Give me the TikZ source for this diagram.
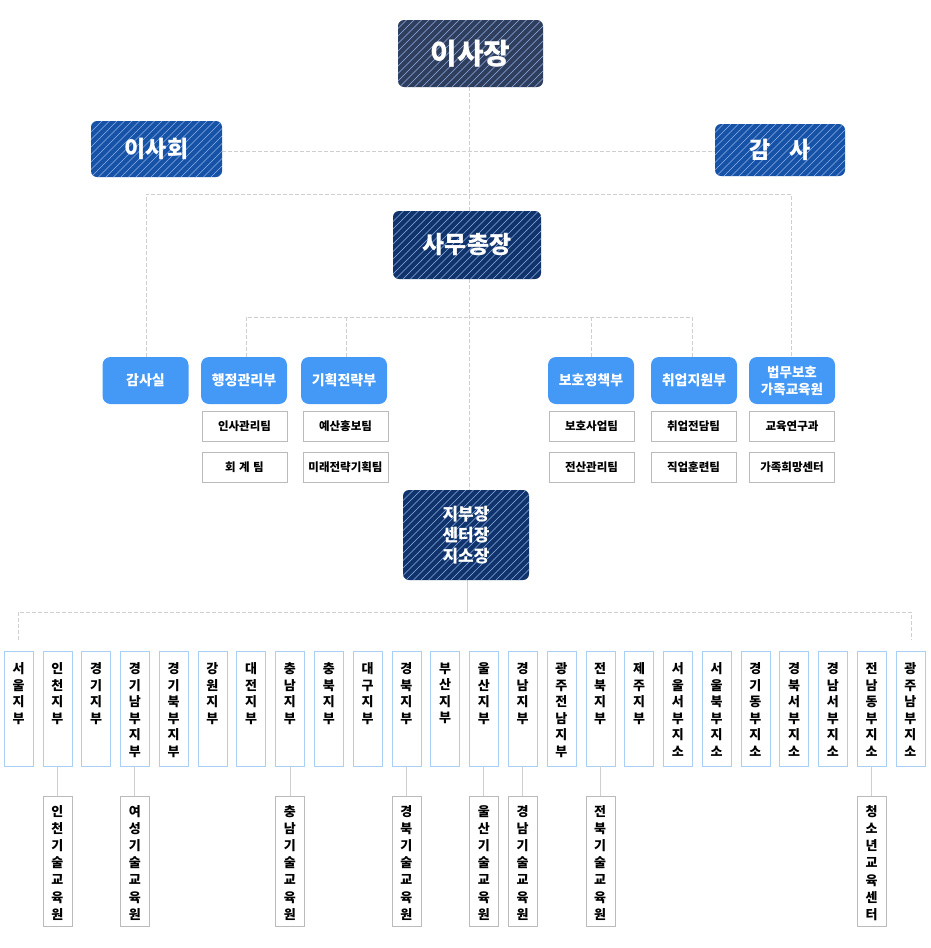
\documentclass[tikz,border=0pt]{standalone}
\usepackage{fontspec}
\setmainfont{Noto Sans CJK KR}
\usetikzlibrary{positioning}
\definecolor{cA}{HTML}{2F3E5C}
\definecolor{cB}{HTML}{1652A6}
\definecolor{cC}{HTML}{10336B}
\definecolor{hatch}{HTML}{8FB0E8}
\definecolor{blu}{HTML}{4499F7}
\definecolor{lin}{HTML}{CFCFCF}
\definecolor{bbord}{HTML}{A9CFF5}
\definecolor{tbord}{HTML}{BBBBBB}
\begin{document}
\begin{tikzpicture}[x=1pt,y=-1pt,
  hbox/.style={rectangle,rounded corners=6pt,inner sep=0pt,text=white,font=\bfseries,
    path picture={\foreach \i in {-24,...,24}{\draw[hatch,line width=0.6pt] (path picture bounding box.center) ++(\i*7.5-100,100) -- ++(200,-200);}}},
  bluebox/.style={rectangle,rounded corners=8pt,fill=blu,text=white,font=\fontsize{14}{17}\selectfont\bfseries,minimum width=86pt,minimum height=47pt,inner sep=0pt,align=center},
  team/.style={rectangle,draw=tbord,fill=white,font=\fontsize{11.5}{14}\selectfont\bfseries,minimum width=85pt,minimum height=30pt,inner sep=0pt},
  br/.style={rectangle,draw=bbord,fill=white,anchor=north,minimum width=29pt,minimum height=115pt,inner sep=0pt},
  sub/.style={rectangle,draw=tbord,fill=white,anchor=north,minimum width=29pt,minimum height=130pt,inner sep=0pt},
  dl/.style={draw=lin,dash pattern=on 4pt off 2pt,line width=0.8pt},
  sl/.style={draw=lin,line width=0.8pt}]
\useasboundingbox (0,0) rectangle (930,948);
\fill[white] (0,0) rectangle (930,948);
% connectors first
\coordinate (l194) at (146,194); \coordinate (r194) at (791,194);
\coordinate (l317) at (246,317); \coordinate (r317) at (692,317);
\coordinate (m317a) at (346,317); \coordinate (m317b) at (591,317);
\coordinate (b612l) at (18,612); \coordinate (b612r) at (911,612);
\coordinate (b612m) at (467,612);
\draw[dl] (469,87) -- (469,490);
\draw[dl] (222,151) -- (715,151);
\draw[dl] (146,357) -- (l194) -- (r194) -- (791,357);
\draw[dl] (246,357) -- (l317) -- (r317) -- (692,357);
\draw[dl] (m317a) -- (346,357);
\draw[dl] (m317b) -- (591,357);
\draw[sl] (467,580) -- (b612m);
\draw[dl] (18,640) -- (b612l) -- (b612r) -- (911,640);
% top nodes
\node[hbox,fill=cA,minimum width=145pt,minimum height=67pt,font=\fontsize{29}{32}\selectfont\bfseries] (isajang) at (470.5,53.5) {이사장};
\node[hbox,fill=cB,minimum width=131pt,minimum height=56pt,font=\fontsize{23}{26}\selectfont\bfseries] (isahoe) at (156.5,149) {이사회};
\node[hbox,fill=cB,minimum width=130pt,minimum height=52pt,font=\fontsize{23}{26}\selectfont\bfseries] (gamsa) at (780,150) {감\hspace{0.8em}사};
\node[hbox,fill=cC,minimum width=148pt,minimum height=68pt,font=\fontsize{24}{27}\selectfont\bfseries] (samu) at (467,245) {사무총장};
\node[hbox,fill=cC,minimum width=126pt,minimum height=90pt,align=center,font=\fontsize{17}{21}\selectfont\bfseries] (jibu) at (466,535) {지부장\\센터장\\지소장};
% departments
\node[bluebox] (d1) at (145.5,380.5) {감사실};
\node[bluebox] (d2) at (244,380.5) {행정관리부};
\node[bluebox] (d3) at (344,380.5) {기획전략부};
\node[bluebox] (d4) at (591,380.5) {보호정책부};
\node[bluebox] (d5) at (694,380.5) {취업지원부};
\node[bluebox,font=\fontsize{13.5}{17}\selectfont\bfseries] (d6) at (792,380.5) {법무보호\\가족교육원};
\node[team] (t21) at (244.5,426) {인사관리팀};
\node[team] (t22) at (244.5,467) {회\hspace{0.3em}계\hspace{0.3em}팀};
\node[team] (t31) at (345.5,426) {예산홍보팀};
\node[team] (t32) at (345.5,467) {미래전략기획팀};
\node[team] (t41) at (591.5,426) {보호사업팀};
\node[team] (t42) at (591.5,467) {전산관리팀};
\node[team] (t51) at (693.5,426) {취업전담팀};
\node[team] (t52) at (693.5,467) {직업훈련팀};
\node[team] (t61) at (792,426) {교육연구과};
\node[team] (t62) at (792,467) {가족희망센터};
% branches
\newcommand{\vt}[1]{\begin{minipage}[t][100pt][t]{16pt}\vspace*{4pt}\centering\fontsize{13}{16.5}\selectfont\bfseries #1\end{minipage}}
\newcommand{\vs}[1]{\begin{minipage}[t][116pt][t]{16pt}\vspace*{2pt}\centering\fontsize{13}{17.2}\selectfont\bfseries #1\end{minipage}}
\foreach \t [count=\k from 0] in {서\\울\\지\\부,인\\천\\지\\부,경\\기\\지\\부,경\\기\\남\\부\\지\\부,경\\기\\북\\부\\지\\부,강\\원\\지\\부,대\\전\\지\\부,충\\남\\지\\부,충\\북\\지\\부,대\\구\\지\\부,경\\북\\지\\부,부\\산\\지\\부,울\\산\\지\\부,경\\남\\지\\부,광\\주\\전\\남\\지\\부,전\\북\\지\\부,제\\주\\지\\부,서\\울\\서\\부\\지\\소,서\\울\\북\\부\\지\\소,경\\기\\동\\부\\지\\소,경\\북\\서\\부\\지\\소,경\\남\\서\\부\\지\\소,전\\남\\동\\부\\지\\소,광\\주\\남\\부\\지\\소}{
  \node[br] (b\k) at (18.5+\k*38.78,651) {\vt{\t}};
}
\foreach \k/\t in {1/인\\천\\기\\술\\교\\육\\원,3/여\\성\\기\\술\\교\\육\\원,7/충\\남\\기\\술\\교\\육\\원,10/경\\북\\기\\술\\교\\육\\원,12/울\\산\\기\\술\\교\\육\\원,13/경\\남\\기\\술\\교\\육\\원,15/전\\북\\기\\술\\교\\육\\원,22/청\\소\\년\\교\\육\\센\\터}{
  \node[sub] (s\k) at (18.5+\k*38.78,796) {\vs{\t}};
  \draw[sl] (b\k.south) -- (s\k.north);
}
\end{tikzpicture}
\end{document}
